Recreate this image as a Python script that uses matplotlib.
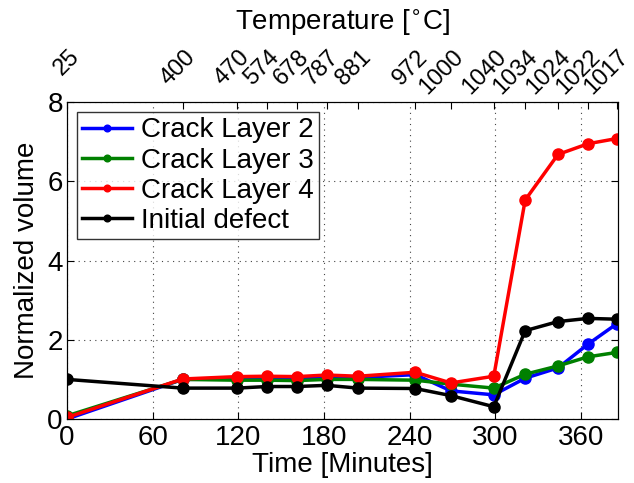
import matplotlib
matplotlib.use("Agg")
import matplotlib.pyplot as plt
from matplotlib.transforms import ScaledTranslation

plt.rcParams['font.family'] = ['Liberation Sans', 'DejaVu Sans']

# time points (minutes) and temperatures at each point
Time = [0, 81, 119, 140, 161, 182, 204, 244, 269, 299, 321, 344, 365, 385]
Temperature = ["25", "400", "470", "574", "678", "787", "881", "972", "1000",
               "1040", "1034", "1024", "1022", "1017"]

CrackLayer2 = [0.0, 1.0, 1.01, 1.02, 1.03, 1.04, 1.05, 1.12, 0.71, 0.61, 1.03, 1.29, 1.89, 2.40]
CrackLayer3 = [0.08, 1.0, 0.98, 0.98, 0.97, 1.0, 1.0, 0.98, 0.88, 0.78, 1.13, 1.34, 1.57, 1.68]
CrackLayer4 = [0.04, 1.01, 1.07, 1.08, 1.07, 1.11, 1.08, 1.18, 0.91, 1.08, 5.53, 6.68, 6.95, 7.08]
InitialDefect = [1.0, 0.78, 0.78, 0.82, 0.82, 0.85, 0.78, 0.77, 0.59, 0.31, 2.23, 2.46, 2.54, 2.52]

fig = plt.figure(figsize=(6.34, 4.83), dpi=100)
ax = fig.add_axes([0.1057, 0.1325, 0.869, 0.656])

ax.plot(Time, CrackLayer2, '-o', color='#0000ff', lw=2.5, ms=8, label='Crack Layer 2')
ax.plot(Time, CrackLayer3, '-o', color='#008000', lw=2.5, ms=8, label='Crack Layer 3')
ax.plot(Time, CrackLayer4, '-o', color='#ff0000', lw=2.5, ms=8, label='Crack Layer 4')
ax.plot(Time, InitialDefect, '-o', color='#000000', lw=2.5, ms=8, label='Initial defect')

ax.set_xlim(0, 386)
ax.set_ylim(0, 8)
ax.set_xticks([0, 60, 120, 180, 240, 300, 360])
ax.set_yticks([0, 2, 4, 6, 8])
ax.tick_params(direction='in', top=True, right=True, labelsize=20, length=5, pad=3)
ax.tick_params(axis='x', pad=4)
ax.grid(True, linestyle=(0, (1, 4)), color='#444444', lw=0.8)
ax.set_xlabel("Time [Minutes]", fontsize=20, labelpad=1)
ax.set_ylabel("Normalized volume", fontsize=20, labelpad=5)

leg = ax.legend(loc='upper left', fontsize=20, frameon=True, fancybox=False,
                edgecolor='black', markerscale=0.6, handlelength=1.8,
                borderpad=0.2, labelspacing=0.15, handletextpad=0.3,
                borderaxespad=0.35)
leg.get_frame().set_linewidth(1.0)

top = ax.twiny()
top.set_xlim(ax.get_xlim())
top.set_xticks(Time)
top.set_xticklabels(Temperature)
top.tick_params(direction='in', labelsize=17, length=5, pad=35)
# rotated labels hang down-left from their right end
shift = ScaledTranslation(9 / 100, 0, fig.dpi_scale_trans)
for lab in top.get_xticklabels():
    lab.set_rotation(45)
    lab.set_rotation_mode('anchor')
    lab.set_horizontalalignment('right')
    lab.set_verticalalignment('center')
    lab.set_transform(lab.get_transform() + shift)
top.set_xlabel("Temperature [$^{\\circ}$C]", fontsize=20, labelpad=11)

fig.savefig("out.png", dpi=100)
